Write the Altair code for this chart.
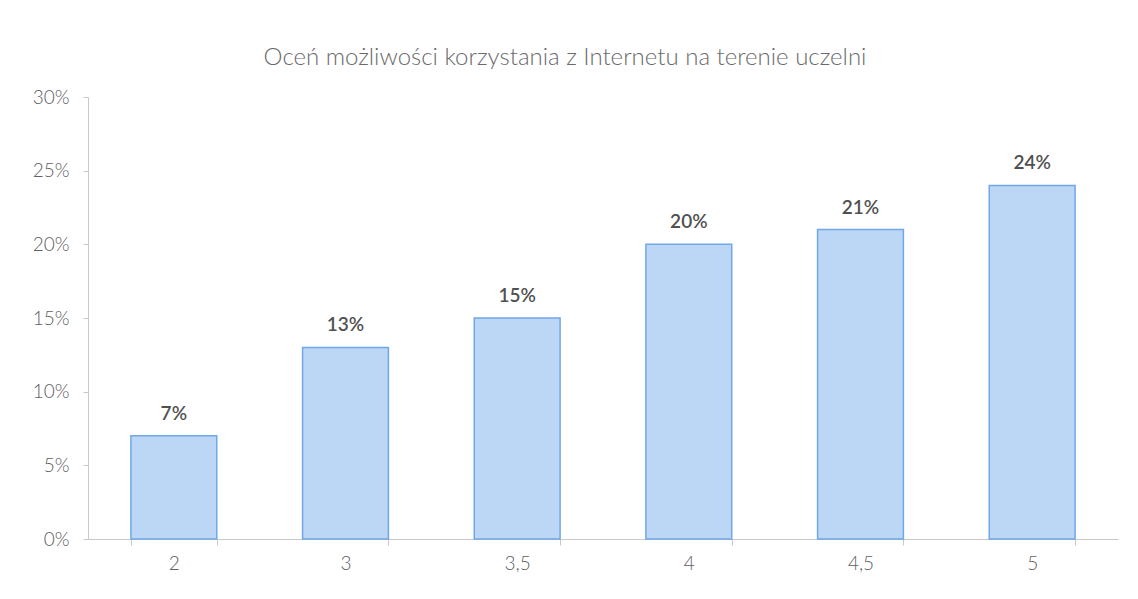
import altair as alt
import pandas as pd

categories = ["2", "3", "3,5", "4", "4,5", "5"]
values = [0.07, 0.13, 0.15, 0.20, 0.21, 0.24]
labels = ["7%", "13%", "15%", "20%", "21%", "24%"]

df = pd.DataFrame({"ocena": categories, "udzial": values, "etykieta": labels})

FONT = "Lato"
GREY = "#606060"

base = alt.Chart(df).encode(
    x=alt.X("ocena:N", sort=categories, title=None,
            scale=alt.Scale(paddingInner=0.5, paddingOuter=0.25),
            axis=alt.Axis(labelAngle=0, tickBand="extent", tickSize=6,
                          labelPadding=9, labelFontSize=19, labelColor=GREY,
                          labelFont=FONT, labelFontWeight=300,
                          domainColor="#c8c8c8", tickColor="#c8c8c8")),
    y=alt.Y("udzial:Q", title=None,
            scale=alt.Scale(domain=[0, 0.3], nice=False),
            axis=alt.Axis(format=".0%", values=[0, 0.05, 0.1, 0.15, 0.2, 0.25, 0.3],
                          grid=False, tickSize=5, labelPadding=14, labelFontSize=19,
                          labelColor=GREY, labelFont=FONT, labelFontWeight=300,
                          domainColor="#c8c8c8", tickColor="#c8c8c8")),
)

bars = base.mark_bar(color="#bcd7f6", stroke="#70a7e8", strokeWidth=1.5)
text = base.mark_text(dy=-22, fontSize=19, font=FONT, fontWeight=600, color="#505050").encode(
    text="etykieta:N")

chart = (bars + text).properties(
    width=1030, height=442,
    title=alt.TitleParams("Oceń możliwości korzystania z Internetu na terenie uczelni",
                          fontSize=24, font=FONT, fontWeight=300, color="#6a6a6a",
                          anchor="middle", offset=18, dx=-38),
    autosize=alt.AutoSizeParams(type="none"),
    padding={"left": 80, "top": 89, "right": 10, "bottom": 40},
).configure_view(stroke=None)

chart.save("out.html", embed_options={"renderer": "svg", "actions": False})
